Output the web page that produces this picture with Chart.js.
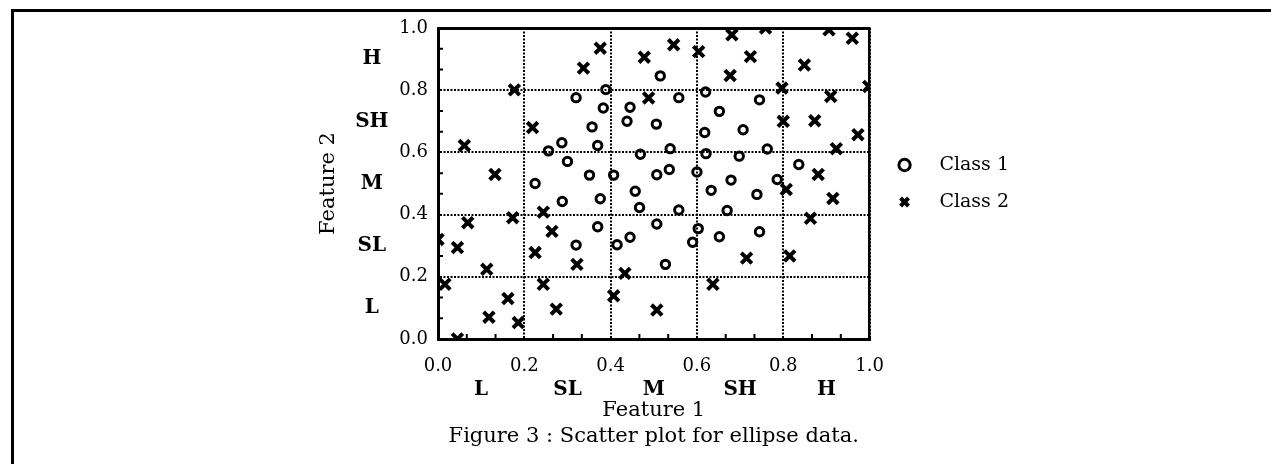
<!DOCTYPE html>
<html>
<head>
<meta charset="utf-8">
<script src="https://cdn.jsdelivr.net/npm/chart.js@4"></script>
<style>
  html, body { margin: 0; padding: 0; background: #fff; }
  #wrap { position: relative; width: 1271px; height: 464px; overflow: hidden; }
  #frame { position: absolute; left: 11px; top: 9px; right: -10px; bottom: -10px;
           border-top: 3px solid #000; border-left: 3px solid #000; }
  #chart { position: absolute; left: 0; top: 0; }
</style>
</head>
<body>
<div id="wrap">
  <div id="frame"></div>
  <canvas id="chart" width="1271" height="464"></canvas>
</div>
<script>
// values
const class1X = [0.32, 0.389, 0.515, 0.383, 0.445, 0.438, 0.357, 0.506, 0.558, 0.62,
  0.652, 0.745, 0.707, 0.618, 0.287, 0.256, 0.37, 0.469, 0.538, 0.621,
  0.698, 0.763, 0.30, 0.351, 0.407, 0.507, 0.536, 0.60, 0.679, 0.786,
  0.836, 0.225, 0.457, 0.633, 0.739, 0.376, 0.288, 0.467, 0.558, 0.67,
  0.37, 0.507, 0.603, 0.59, 0.652, 0.745, 0.32, 0.415, 0.445, 0.527];
const class1Y = [0.776, 0.802, 0.846, 0.743, 0.745, 0.70, 0.682, 0.691, 0.776, 0.794,
  0.732, 0.769, 0.673, 0.664, 0.631, 0.605, 0.622, 0.594, 0.612, 0.596,
  0.588, 0.611, 0.571, 0.527, 0.527, 0.528, 0.545, 0.537, 0.511, 0.513,
  0.561, 0.50, 0.475, 0.478, 0.465, 0.451, 0.442, 0.423, 0.415, 0.413,
  0.361, 0.37, 0.355, 0.311, 0.329, 0.345, 0.302, 0.303, 0.327, 0.24];

const class2X = [0.376, 0.337, 0.478, 0.546, 0.604, 0.681, 0.759, 0.724, 0.677, 0.906,
  0.96, 0.849, 0.177, 0.488, 0.797, 0.998, 0.91, 0.219, 0.80, 0.873,
  0.973, 0.061, 0.923, 0.132, 0.881, 0.807, 0.915, 0.244, 0.069, 0.173,
  0.863, 0.264, 0.0, 0.045, 0.225, 0.322, 0.715, 0.815, 0.113, 0.433,
  0.016, 0.244, 0.637, 0.407, 0.162, 0.274, 0.507, 0.118, 0.186, 0.045];
const class2Y = [0.935, 0.871, 0.906, 0.946, 0.924, 0.978, 1.0, 0.908, 0.847, 0.994,
  0.967, 0.881, 0.801, 0.775, 0.807, 0.812, 0.78, 0.68, 0.70, 0.702,
  0.657, 0.622, 0.612, 0.529, 0.529, 0.481, 0.452, 0.408, 0.374, 0.39,
  0.388, 0.346, 0.32, 0.294, 0.278, 0.24, 0.26, 0.267, 0.224, 0.211,
  0.176, 0.176, 0.176, 0.139, 0.13, 0.096, 0.093, 0.07, 0.053, 0.0];

const tickValues = [0.0, 0.2, 0.4, 0.6, 0.8, 1.0];
const bandCenters = [0.1, 0.3, 0.5, 0.7, 0.9];
const bandLabels = ["L", "SL", "M", "SH", "H"];

const toPoints = (xs, ys) => xs.map((x, i) => ({ x: x, y: ys[i] }));

const serif = "'DejaVu Serif', 'Liberation Serif', serif";
Chart.defaults.color = "#000";
Chart.defaults.font.family = serif;

// small inward ticks at thirds of each grid cell (left and bottom axes)
const minorTicks = {
  id: "minorTicks",
  beforeDatasetsDraw(chart) {
    const { ctx, chartArea, scales } = chart;
    const step = (tickValues[1] - tickValues[0]) / 3;
    ctx.save();
    ctx.strokeStyle = "#000";
    ctx.lineWidth = 2;
    for (let i = 1; i < 15; i++) {
      if (i % 3 === 0) continue;
      const px = scales.x.getPixelForValue(i * step);
      const py = scales.y.getPixelForValue(i * step);
      ctx.beginPath();
      ctx.moveTo(px, chartArea.bottom);
      ctx.lineTo(px, chartArea.bottom - 5);
      ctx.moveTo(chartArea.left, py);
      ctx.lineTo(chartArea.left + 5, py);
      ctx.stroke();
    }
    ctx.restore();
  },
};

const gridLines = { color: "#000", lineWidth: 2, drawTicks: false };
const solidBorder = (w) => ({ display: true, width: w, color: "#000", dash: [2, 1.5] });
const noLines = { display: false, drawTicks: false };

new Chart(document.getElementById("chart"), {
  type: "scatter",
  data: {
    datasets: [
      {
        label: "Class 1",
        data: toPoints(class1X, class1Y),
        pointStyle: "circle",
        pointRadius: 4.2,
        pointHoverRadius: 4.2,
        borderWidth: 3,
        borderColor: "#000",
        backgroundColor: "rgba(0,0,0,0)",
      },
      {
        label: "Class 2",
        data: toPoints(class2X, class2Y),
        pointStyle: "crossRot",
        pointRadius: 7.5,
        pointHoverRadius: 7.5,
        borderWidth: 4,
        borderColor: "#000",
        backgroundColor: "#000",
      },
    ],
  },
  options: {
    responsive: false,
    animation: false,
    devicePixelRatio: 1,
    events: [],
    layout: { padding: { left: 312, top: 28, right: 252, bottom: 15.2 } },
    scales: {
      x: {
        type: "linear", position: "bottom", min: 0, max: 1, weight: 0,
        afterBuildTicks: (s) => { s.ticks = tickValues.map((v) => ({ value: v })); },
        afterFit: (s) => { s.height = 36.6; },
        ticks: { padding: 17, maxRotation: 0, autoSkip: false, font: { size: 18 },
                 callback: (v) => Number(v).toFixed(1) },
        grid: gridLines,
        border: solidBorder(3),
      },
      x2: {
        type: "linear", position: "bottom", min: 0, max: 1, weight: 1,
        afterBuildTicks: (s) => { s.ticks = bandCenters.map((v) => ({ value: v })); },
        afterFit: (s) => { s.height = 48; },
        ticks: { padding: 4.5, maxRotation: 0, autoSkip: false,
                 font: { size: 20, weight: "bold", lineHeight: 1.0 },
                 callback: (v, i) => bandLabels[i] },
        grid: noLines,
        border: { display: false },
        title: { display: true, text: "Feature 1", font: { size: 21 }, padding: { top: 0, bottom: 0 } },
      },
      y: {
        type: "linear", position: "left", min: 0, max: 1, weight: 0,
        afterBuildTicks: (s) => { s.ticks = tickValues.map((v) => ({ value: v })); },
        afterFit: (s) => { s.width = 46; },
        ticks: { padding: 10, autoSkip: false, font: { size: 18 },
                 callback: (v) => Number(v).toFixed(1) },
        grid: gridLines,
        border: solidBorder(3),
      },
      y2: {
        type: "linear", position: "left", min: 0, max: 1, weight: 1,
        afterBuildTicks: (s) => { s.ticks = bandCenters.map((v) => ({ value: v })); },
        afterFit: (s) => { s.width = 80; },
        ticks: { padding: 3.5, crossAlign: "center", autoSkip: false,
                 font: { size: 20, weight: "bold" },
                 callback: (v, i) => bandLabels[i] },
        grid: noLines,
        border: { display: false },
        title: { display: true, text: "Feature 2", font: { size: 21 } },
      },
      xTop: {
        type: "linear", position: "top", min: 0, max: 1,
        afterFit: (s) => { s.height = 0; },
        ticks: { display: false }, grid: noLines,
        border: { display: true, width: 3, color: "#000" },
      },
      yRight: {
        type: "linear", position: "right", min: 0, max: 1,
        afterFit: (s) => { s.width = 7.5; },
        ticks: { display: false }, grid: noLines,
        border: { display: true, width: 2.5, color: "#000" },
      },
    },
    plugins: {
      tooltip: { enabled: false },
      legend: {
        position: "right",
        align: "center",
        fullSize: false,
        maxWidth: 300,
        labels: {
          usePointStyle: true,
          boxWidth: 19,
          boxHeight: 8,
          padding: 18,
          color: "#000",
          font: { size: 19 },
          generateLabels: (chart) =>
            Chart.defaults.plugins.legend.labels.generateLabels(chart)
              .map((l) => Object.assign(l, { text: "  \u2009" + l.text })),
        },
      },
      title: {
        display: true,
        position: "bottom",
        fullSize: false,
        text: "Figure 3 : Scatter plot for ellipse data.",
        color: "#000",
        font: { size: 21, weight: "normal" },
        padding: { top: 0, bottom: 0 },
      },
    },
  },
  plugins: [minorTicks],
});
</script>
</body>
</html>
